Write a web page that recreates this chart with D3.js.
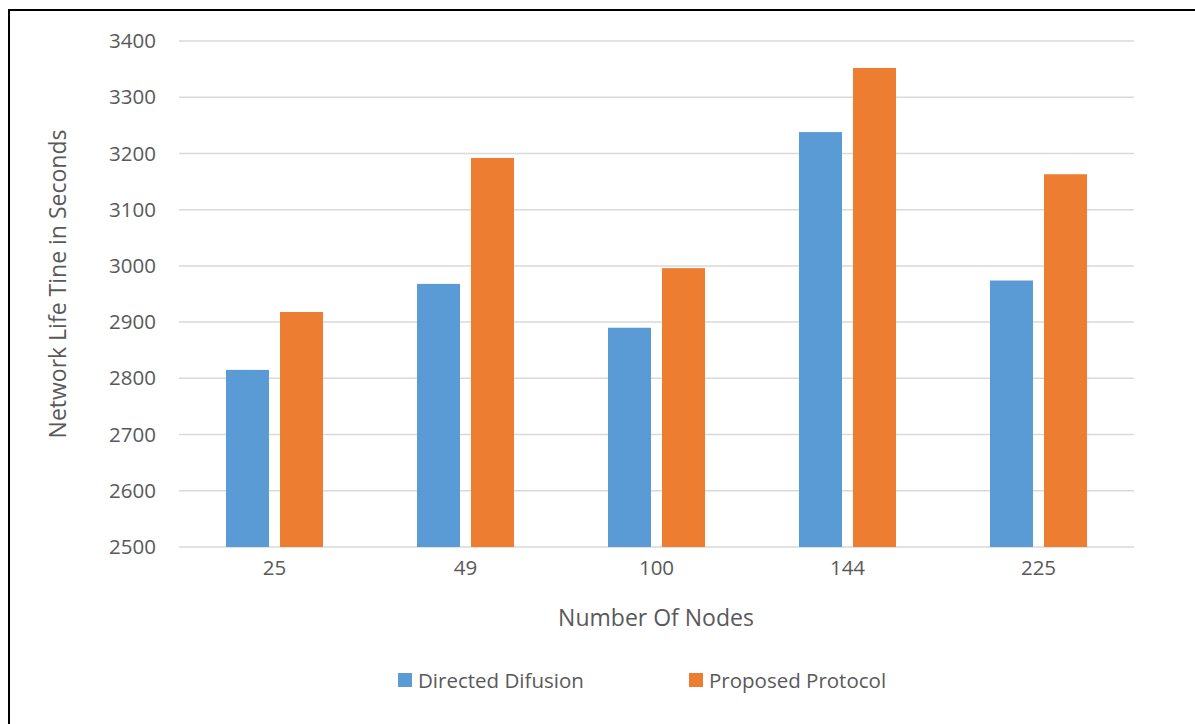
<!DOCTYPE html>
<html><head><meta charset="utf-8">
<script src="https://cdn.jsdelivr.net/npm/d3@7"></script>
<style>body{margin:0;background:#fff;} svg{display:block;} text{font-family:"Open Sans",sans-serif;fill:#595959;}</style>
</head><body>
<svg id="c" width="1195" height="724"></svg>
<script>
const categories = ["25","49","100","144","225"];
const seriesNames = ["Directed Difusion","Proposed Protocol"];
const directedDifusion = [2815, 2968, 2890, 3238, 2974];
const proposedProtocol = [2918, 3192, 2996, 3352, 3163];
const yTicks = [2500,2600,2700,2800,2900,3000,3100,3200,3300,3400];
const colors = ["#5B9BD5","#ED7D31"];

const svg = d3.select("#c");
const plot = {left:179, right:1134, top:41, bottom:547};
const x0 = d3.scaleBand().domain(categories).range([plot.left, plot.right]).paddingInner(0.492).paddingOuter(0.246);
const x1 = d3.scaleBand().domain(seriesNames).range([0, x0.bandwidth()]).paddingInner(0.2037).paddingOuter(0);
const y = d3.scaleLinear().domain([2500,3400]).range([plot.bottom, plot.top]);

// frame (left + top edges visible)
svg.append("path").attr("d", `M9,724 L9,10 L1195,10`).attr("fill","none").attr("stroke","#000").attr("stroke-width",2);

// gridlines
svg.append("g").selectAll("line").data(yTicks).join("line")
  .attr("x1", plot.left).attr("x2", plot.right)
  .attr("y1", d=>y(d)).attr("y2", d=>y(d))
  .attr("stroke","#d9d9d9").attr("stroke-width",1.5);

// y axis labels
const yAxis = svg.append("g").attr("transform",`translate(${plot.left},0)`)
  .call(d3.axisLeft(y).tickValues(yTicks).tickSize(0).tickPadding(23).tickFormat(d3.format("d")));
yAxis.select(".domain").remove();
yAxis.selectAll("text").attr("font-size",20.5).attr("font-family","Open Sans").attr("fill","#595959");

// bars
const data = categories.map((c,i)=>({c, vals:[directedDifusion[i], proposedProtocol[i]]}));
svg.append("g").selectAll("g").data(data).join("g")
  .attr("transform", d=>`translate(${x0(d.c)},0)`)
  .selectAll("rect").data(d=>d.vals.map((v,j)=>({s:seriesNames[j], v, j}))).join("rect")
  .attr("x", d=>x1(d.s)).attr("width", x1.bandwidth())
  .attr("y", d=>y(d.v)).attr("height", d=>y(2500)-y(d.v))
  .attr("fill", d=>colors[d.j]);

// x axis labels
const xAxis = svg.append("g").attr("transform",`translate(0,${plot.bottom})`)
  .call(d3.axisBottom(x0).tickSize(0).tickPadding(13));
xAxis.select(".domain").remove();
xAxis.selectAll("text").attr("font-size",20.5).attr("font-family","Open Sans").attr("fill","#595959");

// axis titles
svg.append("text").attr("x",656).attr("y",626).attr("text-anchor","middle").attr("font-size",23).text("Number Of Nodes");
svg.append("text").attr("transform","translate(66,284) rotate(-90)").attr("text-anchor","middle").attr("font-size",23).text("Network Life Tine in Seconds");

// legend
const legX = [398, 689];
const leg = svg.append("g").selectAll("g").data(seriesNames).join("g")
  .attr("transform",(d,i)=>`translate(${legX[i]},673)`);
leg.append("rect").attr("width",14).attr("height",14).attr("fill",(d,i)=>colors[i]);
leg.append("text").attr("x",20).attr("y",14.5).attr("font-size",20.5).text(d=>d);
</script>
</body></html>
